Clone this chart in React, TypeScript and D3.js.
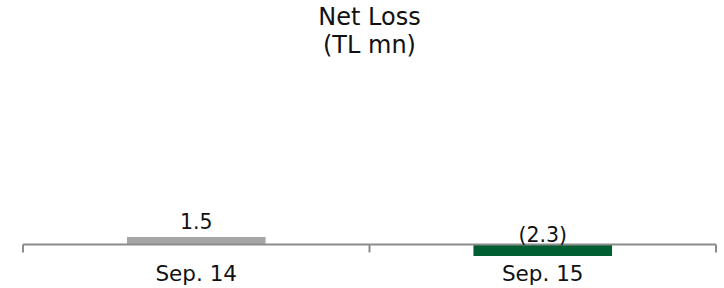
import React from "react";
import * as d3 from "d3";

// chart data
const categories = ["Sep. 14", "Sep. 15"];
const values = [1.5, -2.3];
const valueLabels = ["1.5", "(2.3)"];
const barColors = ["#a6a6a6", "#005e32"];
const titleLines = ["Net Loss", "(TL mn)"];

const W = 724;
const H = 288;
const FONT = "'DejaVu Sans', Verdana, sans-serif";

export default function App() {
  // band scale across the category axis
  const x = d3
    .scaleBand<string>()
    .domain(categories)
    .range([23, 716])
    .paddingInner(0.6)
    .paddingOuter(0.3);

  // value scale, zero sits on the axis line
  const y = d3.scaleLinear().domain([-5, 30]).range([269.5, 94.5]);
  const y0 = y(0);

  const step = x.step();
  const ticks = [23, ...categories.map((_, i) => 23 + step * (i + 1))];

  return (
    <svg
      width={W}
      height={H}
      style={{ position: "absolute", left: 0, top: 0, background: "#fff" }}
      fontFamily={FONT}
    >
      {/* title */}
      {titleLines.map((t, i) => (
        <text
          key={t}
          x={369.5}
          y={25 + i * 28}
          textAnchor="middle"
          fontSize={24}
          fill="#111"
        >
          {t}
        </text>
      ))}

      {/* bars */}
      {categories.map((c, i) => {
        const v = values[i];
        const top = Math.min(y(v), y0);
        const h = Math.abs(y(v) - y0);
        return (
          <rect
            key={c}
            x={x(c)}
            y={top}
            width={x.bandwidth()}
            height={h}
            fill={barColors[i]}
          />
        );
      })}

      {/* axis */}
      <line x1={23} x2={716} y1={y0} y2={y0} stroke="#8c8c8c" strokeWidth={2} />
      {ticks.map((tx) => (
        <line key={tx} x1={tx} x2={tx} y1={y0} y2={y0 + 8} stroke="#8c8c8c" strokeWidth={2} />
      ))}

      {/* value labels */}
      {categories.map((c, i) => {
        const cx = (x(c) ?? 0) + x.bandwidth() / 2;
        const ly = values[i] >= 0 ? y(values[i]) - 8 : y0 - 3;
        return (
          <text key={c} x={cx} y={ly} textAnchor="middle" fontSize={20.5} fill="#111">
            {valueLabels[i]}
          </text>
        );
      })}

      {/* category labels */}
      {categories.map((c) => (
        <text
          key={c}
          x={(x(c) ?? 0) + x.bandwidth() / 2}
          y={281}
          textAnchor="middle"
          fontSize={21.5}
          fill="#111"
        >
          {c}
        </text>
      ))}
    </svg>
  );
}
